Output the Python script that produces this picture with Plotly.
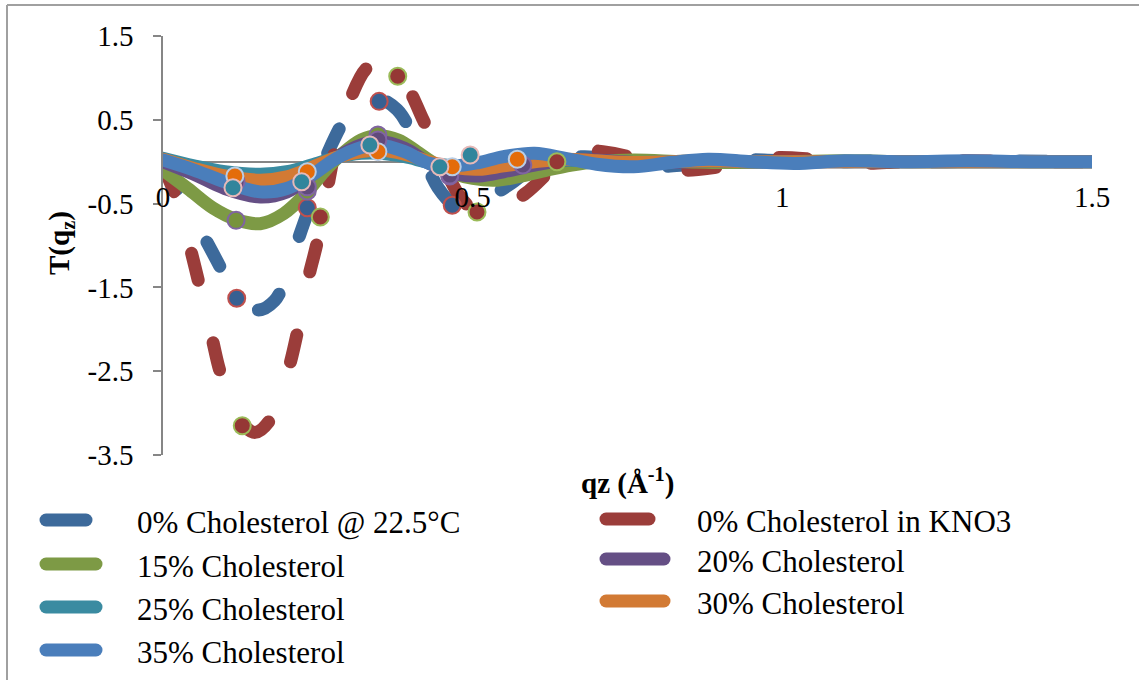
import plotly.graph_objects as go

# ---- smooth transform curves T(qz) ----
qz_0_22 = [0, 0.03, 0.071, 0.10, 0.119, 0.153, 0.18, 0.197, 0.221, 0.245, 0.27, 0.307, 0.35, 0.378,
           0.41, 0.444, 0.467, 0.485, 0.52, 0.564, 0.588, 0.63, 0.68, 0.74, 0.78, 0.84, 0.90, 0.97,
           1.05, 1.15, 1.25, 1.35, 1.5]
t_0_22 = [-0.05, -0.42, -0.96, -1.36, -1.60, -1.77, -1.66, -1.41, -0.87, -0.37, 0.17, 0.62, 0.74, 0.62,
          0.22, -0.31, -0.50, -0.55, -0.45, -0.25, -0.12, 0.0, 0.06, 0.0, -0.06, -0.04, 0.02, 0.02,
          -0.01, 0.01, 0.0, 0.01, 0.0]

qz_kno3 = [0, 0.023, 0.044, 0.06, 0.079, 0.095, 0.128, 0.149, 0.173, 0.202, 0.218, 0.234, 0.249,
           0.265, 0.278, 0.302, 0.331, 0.355, 0.379, 0.394, 0.42, 0.45, 0.48, 0.507, 0.53, 0.555,
           0.585, 0.612, 0.636, 0.673, 0.71, 0.751, 0.79, 0.84, 0.89, 0.94, 0.99, 1.05, 1.12, 1.2,
           1.3, 1.4, 1.5]
t_kno3 = [-0.05, -0.46, -1.03, -1.51, -2.10, -2.57, -3.12, -3.23, -3.08, -2.49, -2.00, -1.41, -0.96,
          -0.34, 0.14, 0.74, 1.13, 1.17, 1.02, 0.90, 0.50, 0.0, -0.42, -0.60, -0.60, -0.52,
          -0.38, -0.20, 0.0, 0.13, 0.12, 0.06, -0.04, -0.10, -0.07, 0.0, 0.05, 0.03, -0.02, 0.0,
          0.01, 0.0, 0.0]

qz_15 = [0, 0.04, 0.08, 0.118, 0.157, 0.195, 0.233, 0.26, 0.29, 0.32, 0.347, 0.38, 0.41, 0.44, 0.47,
         0.5, 0.54, 0.58, 0.62, 0.66, 0.7, 0.76, 0.84, 0.92, 1.0, 1.1, 1.2, 1.3, 1.4, 1.5]
t_15 = [-0.10, -0.32, -0.55, -0.69, -0.74, -0.62, -0.36, -0.12, 0.10, 0.26, 0.31, 0.26, 0.12, -0.03,
        -0.14, -0.20, -0.22, -0.17, -0.10, -0.04, 0.0, 0.02, 0.0, -0.01, 0.0, 0.01, 0.0, 0.0, 0.0, 0.0]

qz_std = [0, 0.05, 0.1, 0.157, 0.2, 0.24, 0.28, 0.32, 0.35, 0.39, 0.43, 0.47, 0.51, 0.55, 0.6, 0.65,
          0.7, 0.76, 0.82, 0.88, 0.95, 1.02, 1.1, 1.2, 1.3, 1.4, 1.5]
t_20 = [0.0, -0.15, -0.32, -0.42, -0.36, -0.16, 0.05, 0.20, 0.24, 0.16, -0.02, -0.14, -0.17, -0.12,
        -0.04, 0.02, 0.02, -0.01, -0.01, 0.01, 0.0, 0.0, 0.0, 0.0, 0.0, 0.0, 0.0]
t_25 = [0.04, -0.05, -0.12, -0.15, -0.12, -0.04, 0.05, 0.10, 0.10, 0.06, -0.01, -0.05, -0.05, -0.02,
        0.01, 0.02, 0.0, -0.01, 0.0, 0.01, 0.0, 0.0, 0.0, 0.0, 0.0, 0.0, 0.0]
t_30 = [0.03, -0.08, -0.17, -0.22, -0.18, -0.07, 0.05, 0.12, 0.14, 0.09, 0.0, -0.07, -0.09, -0.05,
        0.0, 0.03, 0.01, -0.01, 0.0, 0.01, 0.0, 0.0, 0.0, 0.0, 0.0, 0.0, 0.0]
t_35 = [0.02, -0.10, -0.24, -0.36, -0.32, -0.16, 0.04, 0.17, 0.20, 0.12, -0.02, -0.05, -0.01, 0.06,
        0.10, 0.04, -0.03, -0.06, -0.01, 0.03, 0.0, -0.02, 0.01, 0.0, 0.01, 0.0, 0.0]

# ---- measured points ----
pt_0_22_q = [0.119, 0.233, 0.349, 0.467]
pt_0_22_t = [-1.63, -0.55, 0.72, -0.52]
pt_kno3_q = [0.128, 0.254, 0.379, 0.507, 0.636]
pt_kno3_t = [-3.15, -0.66, 1.02, -0.60, 0.0]
pt_15_q = [0.118, 0.233, 0.347, 0.463]
pt_15_t = [-0.70, -0.35, 0.32, -0.17]
pt_20_q = [0.118, 0.233, 0.347, 0.463, 0.581]
pt_20_t = [-0.24, -0.30, 0.26, -0.16, -0.04]
pt_30_q = [0.116, 0.233, 0.347, 0.467, 0.572]
pt_30_t = [-0.17, -0.12, 0.12, -0.06, 0.03]
pt_25_q = [0.113, 0.224, 0.334, 0.447, 0.496]
pt_25_t = [-0.31, -0.24, 0.20, -0.06, 0.08]

names = ["0% Cholesterol @ 22.5\u00b0C", "0% Cholesterol in KNO3", "15% Cholesterol",
         "20% Cholesterol", "25% Cholesterol", "30% Cholesterol", "35% Cholesterol"]
y_ticks = [1.5, 0.5, -0.5, -1.5, -2.5, -3.5]
y_tick_text = ["1.5", "0.5", "-0.5", "-1.5", "-2.5", "-3.5"]
x_ticks = [0, 0.5, 1, 1.5]
x_tick_text = ["0", "0.5", "1", "1.5"]

W, H = 1139, 680
FONT = "Liberation Serif"
AXIS_GREY = "#868686"

C_DB, C_DR, C_GR, C_PU, C_TE, C_OR, C_BL = ("#3D6A9B", "#9B3D3A", "#7D9A45", "#654F85",
                                            "#3A8BA1", "#D27A34", "#4A7EBB")
LW = 13

fig = go.Figure()

line_specs = [
    (qz_0_22, t_0_22, C_DB, "27px,61px"),
    (qz_kno3, t_kno3, C_DR, "28px,64px"),
    (qz_15, t_15, C_GR, "solid"),
    (qz_std, t_20, C_PU, "solid"),
    (qz_std, t_25, C_TE, "solid"),
    (qz_std, t_30, C_OR, "solid"),
    (qz_std, t_35, C_BL, "solid"),
]
for (qx, ty, col, dash), nm in zip(line_specs, names):
    fig.add_trace(go.Scatter(x=qx, y=ty, mode="lines", name=nm, showlegend=False,
                             line=dict(color=col, width=LW, dash=dash, shape="spline", smoothing=1.0),
                             hoverinfo="skip"))

marker_specs = [
    (pt_0_22_q, pt_0_22_t, "#376092", "#C0504D"),
    (pt_kno3_q, pt_kno3_t, "#953735", "#9BBB59"),
    (pt_15_q, pt_15_t, "#77933C", "#8064A2"),
    (pt_20_q, pt_20_t, "#604A7B", "#8064A2"),
    (pt_30_q, pt_30_t, "#E46C0A", "#B9CDE5"),
    (pt_25_q, pt_25_t, "#31859C", "#E6B9B8"),
]
for qx, ty, fill, edge in marker_specs:
    fig.add_trace(go.Scatter(x=qx, y=ty, mode="markers", showlegend=False, hoverinfo="skip",
                             marker=dict(size=17, color=fill, line=dict(color=edge, width=2))))

# empty trace that registers the tick-label axis (drawn above the curves)
fig.add_trace(go.Scatter(x=[], y=[], xaxis="x3", yaxis="y", showlegend=False, hoverinfo="skip"))

# ---- legend drawn on a full-page pixel overlay ----
legend_rows = [
    (names[0], C_DB, 46, 86, 135, 520),
    (names[1], C_DR, 606, 649, 695, 519),
    (names[2], C_GR, 46, 96, 135, 564),
    (names[3], C_PU, 606, 664, 695, 559),
    (names[4], C_TE, 46, 96, 135, 607),
    (names[5], C_OR, 606, 664, 695, 601),
    (names[6], C_BL, 46, 96, 135, 650),
]
for label, col, k0, k1, tx, ty in legend_rows:
    fig.add_trace(go.Scatter(x=[k0, k1], y=[ty, ty], xaxis="x2", yaxis="y2", mode="lines",
                             showlegend=False, hoverinfo="skip",
                             line=dict(color=col, width=LW)))
    fig.add_annotation(x=tx, y=ty + 2, xref="x2", yref="y2", text=label, showarrow=False,
                       xanchor="left", yanchor="middle", font=dict(family=FONT, size=31, color="black"))

# axis titles
fig.add_annotation(x=61, y=243, xref="x2", yref="y2", text="<b>T(q<sub>z</sub>)</b>", textangle=-90,
                   showarrow=False, font=dict(family=FONT, size=29, color="black"))
fig.add_annotation(x=627, y=481, xref="x2", yref="y2", text="<b>qz (\u00c5<sup>-1</sup>)</b>",
                   showarrow=False, font=dict(family=FONT, size=29, color="black"))

# outer frame
fig.add_shape(type="line", xref="x2", yref="y2", x0=7, x1=7, y0=5, y1=H + 5,
              line=dict(color="#A0A0A0", width=2))
fig.add_shape(type="line", xref="x2", yref="y2", x0=7, x1=W + 5, y0=5, y1=5,
              line=dict(color="#A0A0A0", width=2))

y_dom = [1 - 455 / H, 1 - 36 / H]
x_dom = [163 / W, 1092 / W]
zero_pos = y_dom[0] + (0 - (-3.5)) / 5.0 * (y_dom[1] - y_dom[0])

tick_font = dict(family=FONT, size=29, color="black")
fig.update_layout(
    width=W, height=H,
    margin=dict(l=0, r=0, t=0, b=0, pad=0, autoexpand=False),
    paper_bgcolor="white", plot_bgcolor="rgba(0,0,0,0)",
    font=dict(family=FONT, size=29, color="black"),
    # horizontal axis line through T = 0, kept beneath the curves
    xaxis=dict(domain=x_dom, range=[0, 1.5], anchor="free", position=zero_pos,
               tickvals=x_ticks, showticklabels=False, ticks="", automargin=False,
               showline=True, linecolor=AXIS_GREY, linewidth=1.5, showgrid=False, zeroline=False,
               layer="below traces"),
    # its tick labels, painted over the curves
    xaxis3=dict(domain=x_dom, range=[0, 1.5], anchor="free", position=zero_pos, overlaying="x",
                matches="x", tickvals=x_ticks, ticktext=x_tick_text, ticks="", automargin=False,
                showline=False, showgrid=False, zeroline=False, ticklabelstandoff=15,
                layer="above traces", tickfont=tick_font),
    yaxis=dict(domain=y_dom, range=[-3.5, 1.5], anchor="x", automargin=False,
               tickvals=y_ticks, ticktext=y_tick_text,
               ticks="outside", ticklen=8, tickwidth=1.5, tickcolor=AXIS_GREY,
               showline=True, linecolor=AXIS_GREY, linewidth=1.5, showgrid=False, zeroline=False,
               ticklabelstandoff=14, layer="below traces", tickfont=tick_font),
    xaxis2=dict(domain=[0, 1], range=[0, W], visible=False, fixedrange=True, anchor="y2",
                automargin=False),
    yaxis2=dict(domain=[0, 1], range=[H, 0], visible=False, fixedrange=True, anchor="x2",
                automargin=False),
    showlegend=False,
)

round_caps = ("document.querySelectorAll('path.js-line').forEach(function(p){"
              "p.style.strokeLinecap='round';p.style.strokeLinejoin='round';});")
fig.write_html("out.html", post_script=round_caps)
